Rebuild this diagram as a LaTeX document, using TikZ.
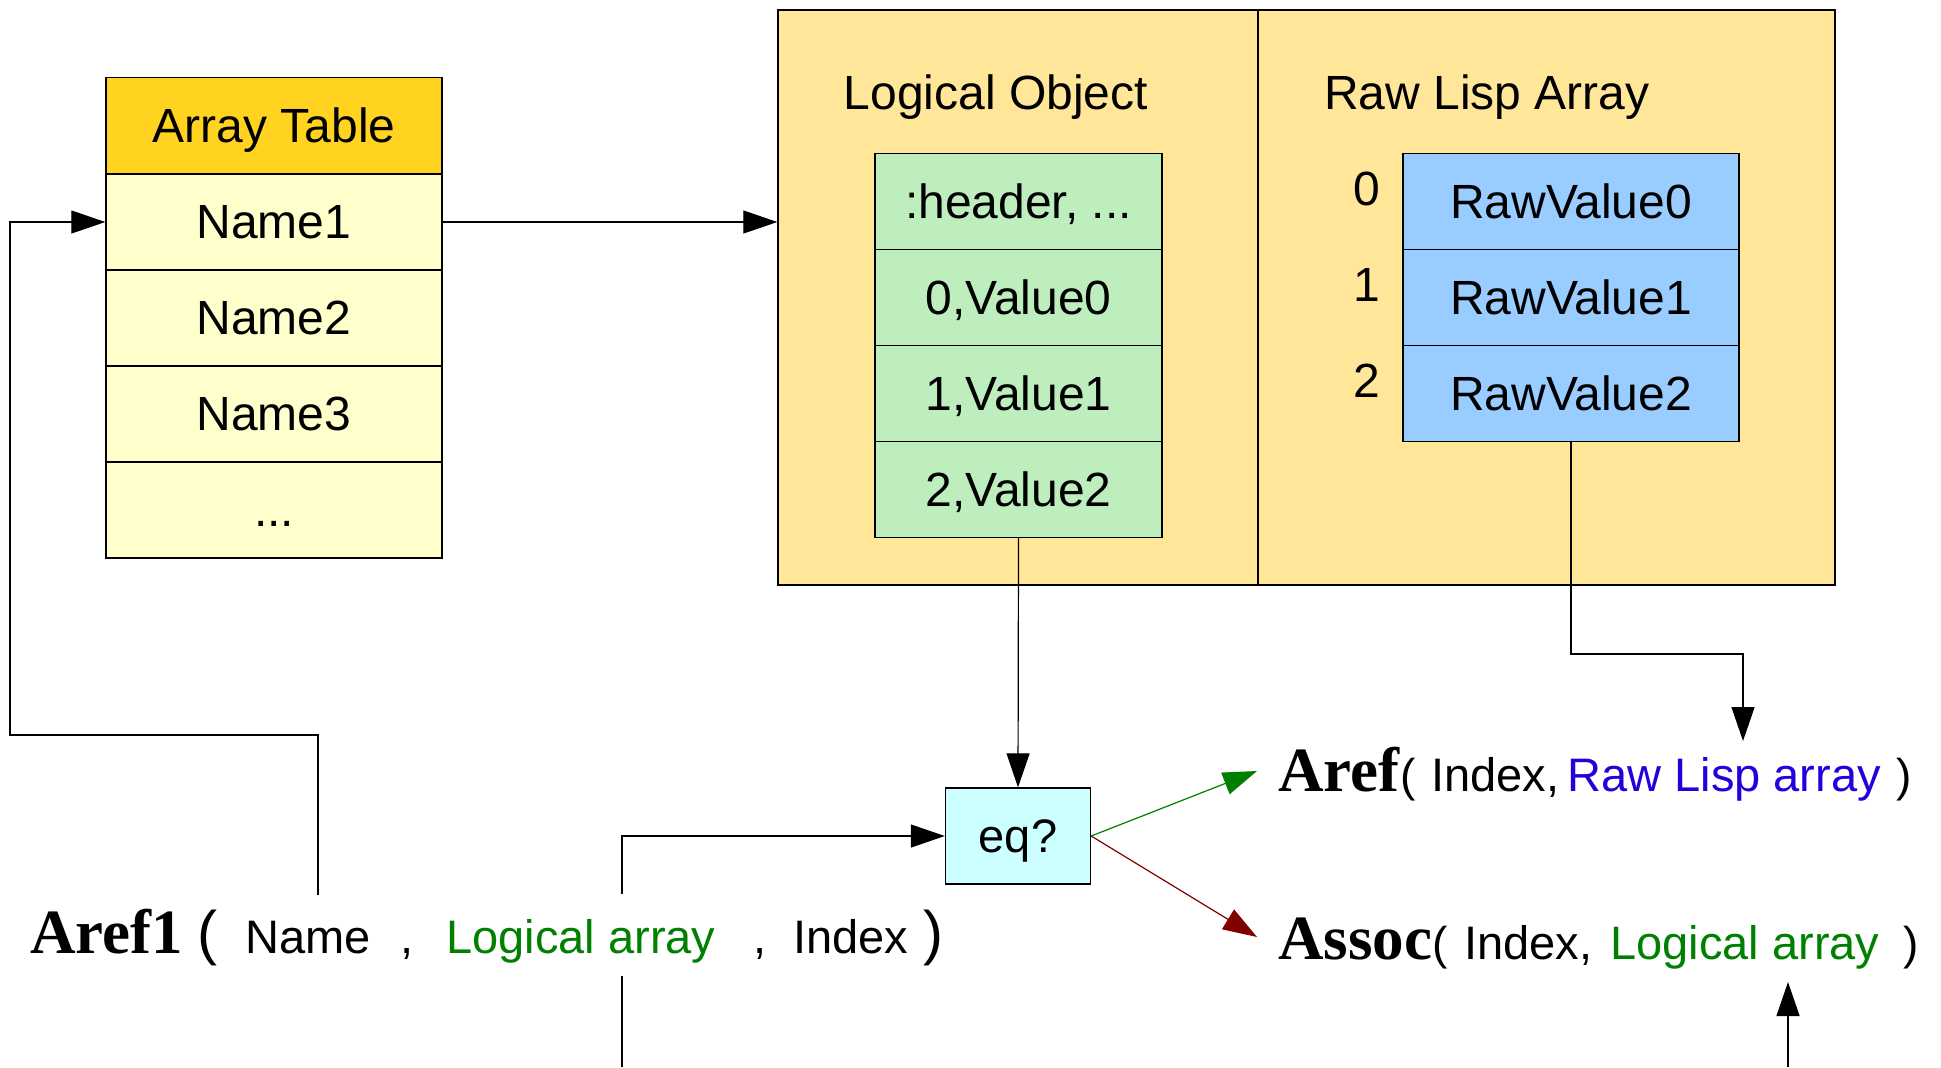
\documentclass[tikz,border=0pt]{standalone}
\usepackage{fontspec}
\setmainfont{Liberation Sans}
\newfontfamily\keyface{Liberation Serif}
\usetikzlibrary{arrows.meta,calc,positioning}
\definecolor{TableHead}{HTML}{FFD320}
\definecolor{TableRow}{HTML}{FFFFCC}
\definecolor{ObjFill}{HTML}{FFE699}
\definecolor{CellGreen}{HTML}{BEEEBE}
\definecolor{CellBlue}{HTML}{99CCFF}
\definecolor{EqFill}{HTML}{CCFFFF}
\definecolor{ArgGreen}{HTML}{008000}
\definecolor{ArgBlue}{HTML}{2300DC}
\definecolor{ArrowRed}{HTML}{800000}

\begin{document}
\begin{tikzpicture}[x=0.5pt,y=-0.5pt,
  cell/.style={draw=black, line width=0.7pt, inner sep=0pt, minimum height=48pt,
    text height=21.7pt, text depth=5.1pt, font=\fontsize{24}{28}\selectfont},
  tabcell/.style={cell, fill=TableRow, minimum width=168pt},
  lvcell/.style={cell, fill=CellGreen, minimum width=143.5pt},
  rvcell/.style={cell, fill=CellBlue, minimum width=168pt},
  half/.style={draw=black, line width=0.7pt, fill=ObjFill, inner sep=0pt, minimum height=287.5pt},
  title/.style={inner sep=0pt, anchor=base, font=\fontsize{24}{28}\selectfont},
  arg/.style={inner sep=0pt, anchor=base west, font=\fontsize{23.5}{28}\selectfont},
  key/.style={inner sep=0pt, anchor=base west, font=\keyface\bfseries\fontsize{31.5}{36}\selectfont},
  bigparen/.style={inner sep=0pt, anchor=base west, font=\fontsize{30}{34}\selectfont},
  paren/.style={inner sep=0pt, anchor=base west, font=\fontsize{23}{27}\selectfont},
  link/.style={line width=0.6pt},
  tip/.style={link, -{Triangle[length=17pt,width=11.5pt]}}]
  \useasboundingbox (0,0) rectangle (1941,1067);

  % array table
  \node[tabcell, fill=TableHead] (athead) at (274,125.5) {Array Table};
  \node[tabcell] (name1) at (274,222) {Name1};
  \node[tabcell] (name2) at (274,318) {Name2};
  \node[tabcell] (name3) at (274,414) {Name3};
  \node[tabcell] (namemore) at (274,510) {...};

  % logical object and raw lisp array
  \node[half, minimum width=240pt] (lobj) at (1018,297.5) {};
  \node[half, minimum width=288.5pt] (rarr) at (1546.5,297.5) {};
  \node[title] (lobjtitle) at (996,109) {Logical Object};
  \node[title] (rarrtitle) at (1487,109) {Raw Lisp Array};

  \node[lvcell] (lvhead) at (1018.5,201.5) {:header, ...};
  \node[lvcell] (lv0) at (1018.5,297.5) {0,Value0};
  \node[lvcell] (lv1) at (1018.5,393.5) {1,Value1};
  \node[lvcell] (lv2) at (1018.5,489.5) {2,Value2};

  \node[rvcell] (rv0) at (1571,201.5) {RawValue0};
  \node[rvcell] (rv1) at (1571,297.5) {RawValue1};
  \node[rvcell] (rv2) at (1571,393.5) {RawValue2};
  \node[title, anchor=center] (ix0) at (1367,189) {0};
  \node[title, anchor=center] (ix1) at (1367,285) {1};
  \node[title, anchor=center] (ix2) at (1367,381) {2};

  \node[cell, fill=EqFill, minimum width=72.5pt, font=\fontsize{23.5}{28}\selectfont] (eq) at (1018,836) {eq?};

  % Aref1 call
  \node[key] (aref1kw) at (30,953) {Aref1};
  \node[bigparen] (aref1open) at (197,953) {(};
  \node[arg] (namearg) at (245,953) {Name};
  \node[arg] (comma1) at (400,953) {,};
  \node[arg, text=ArgGreen] (lgarg) at (446,953) {Logical array};
  \node[arg] (comma2) at (753,953) {,};
  \node[arg] (indexarg) at (793,953) {Index};
  \node[bigparen] (aref1close) at (923,953) {)};

  % Aref and Assoc calls
  \node[key] (arefkw) at (1278,791) {Aref};
  \node[paren] (arefopen) at (1400,791) {(};
  \node[arg] (arefindex) at (1431,791) {Index,};
  \node[arg, text=ArgBlue] (arefraw) at (1567,791) {Raw Lisp array};
  \node[paren] (arefclose) at (1896,791) {)};

  \node[key] (assockw) at (1278,959) {Assoc};
  \node[paren] (assocopen) at (1432,959) {(};
  \node[arg] (associndex) at (1464,959) {Index,};
  \node[arg, text=ArgGreen] (assoclg) at (1610,959) {Logical array};
  \node[paren] (assocclose) at (1903,959) {)};

  % connectors
  \draw[tip] (name1.east) -- (name1.east -| lobj.west);
  \draw[tip] (lv2.south) -- (eq.north);

  \coordinate (nmtop) at ($(namearg.north)+(10,-25)$);
  \coordinate (loopturn) at (10,735);
  \draw[tip] (nmtop) |- (loopturn) |- (name1.west);

  \coordinate (lgbot) at (622,1067);
  \coordinate (lgcut1) at ($(lgarg.south -| lgbot)+(0,13)$);
  \coordinate (lgcut2) at ($(lgarg.north -| lgbot)+(0,-25)$);
  \draw[link] (lgbot) -- (lgcut1);
  \draw[tip] (lgcut2) |- (eq.west);

  \coordinate (rawbend) at (1743,654);
  \coordinate (rawtip) at (1743,741);
  \draw[tip] (rv2.south) |- (rawbend) -- (rawtip);

  \coordinate (lgup) at (1788,1067);
  \coordinate (lguptip) at (1788,982);
  \draw[tip] (lgup) -- (lguptip);

  \coordinate (arefin) at (1257,771);
  \coordinate (associn) at (1257,937);
  \draw[tip, ArgGreen] (eq.east) -- (arefin);
  \draw[tip, ArrowRed] (eq.east) -- (associn);
\end{tikzpicture}
\end{document}
